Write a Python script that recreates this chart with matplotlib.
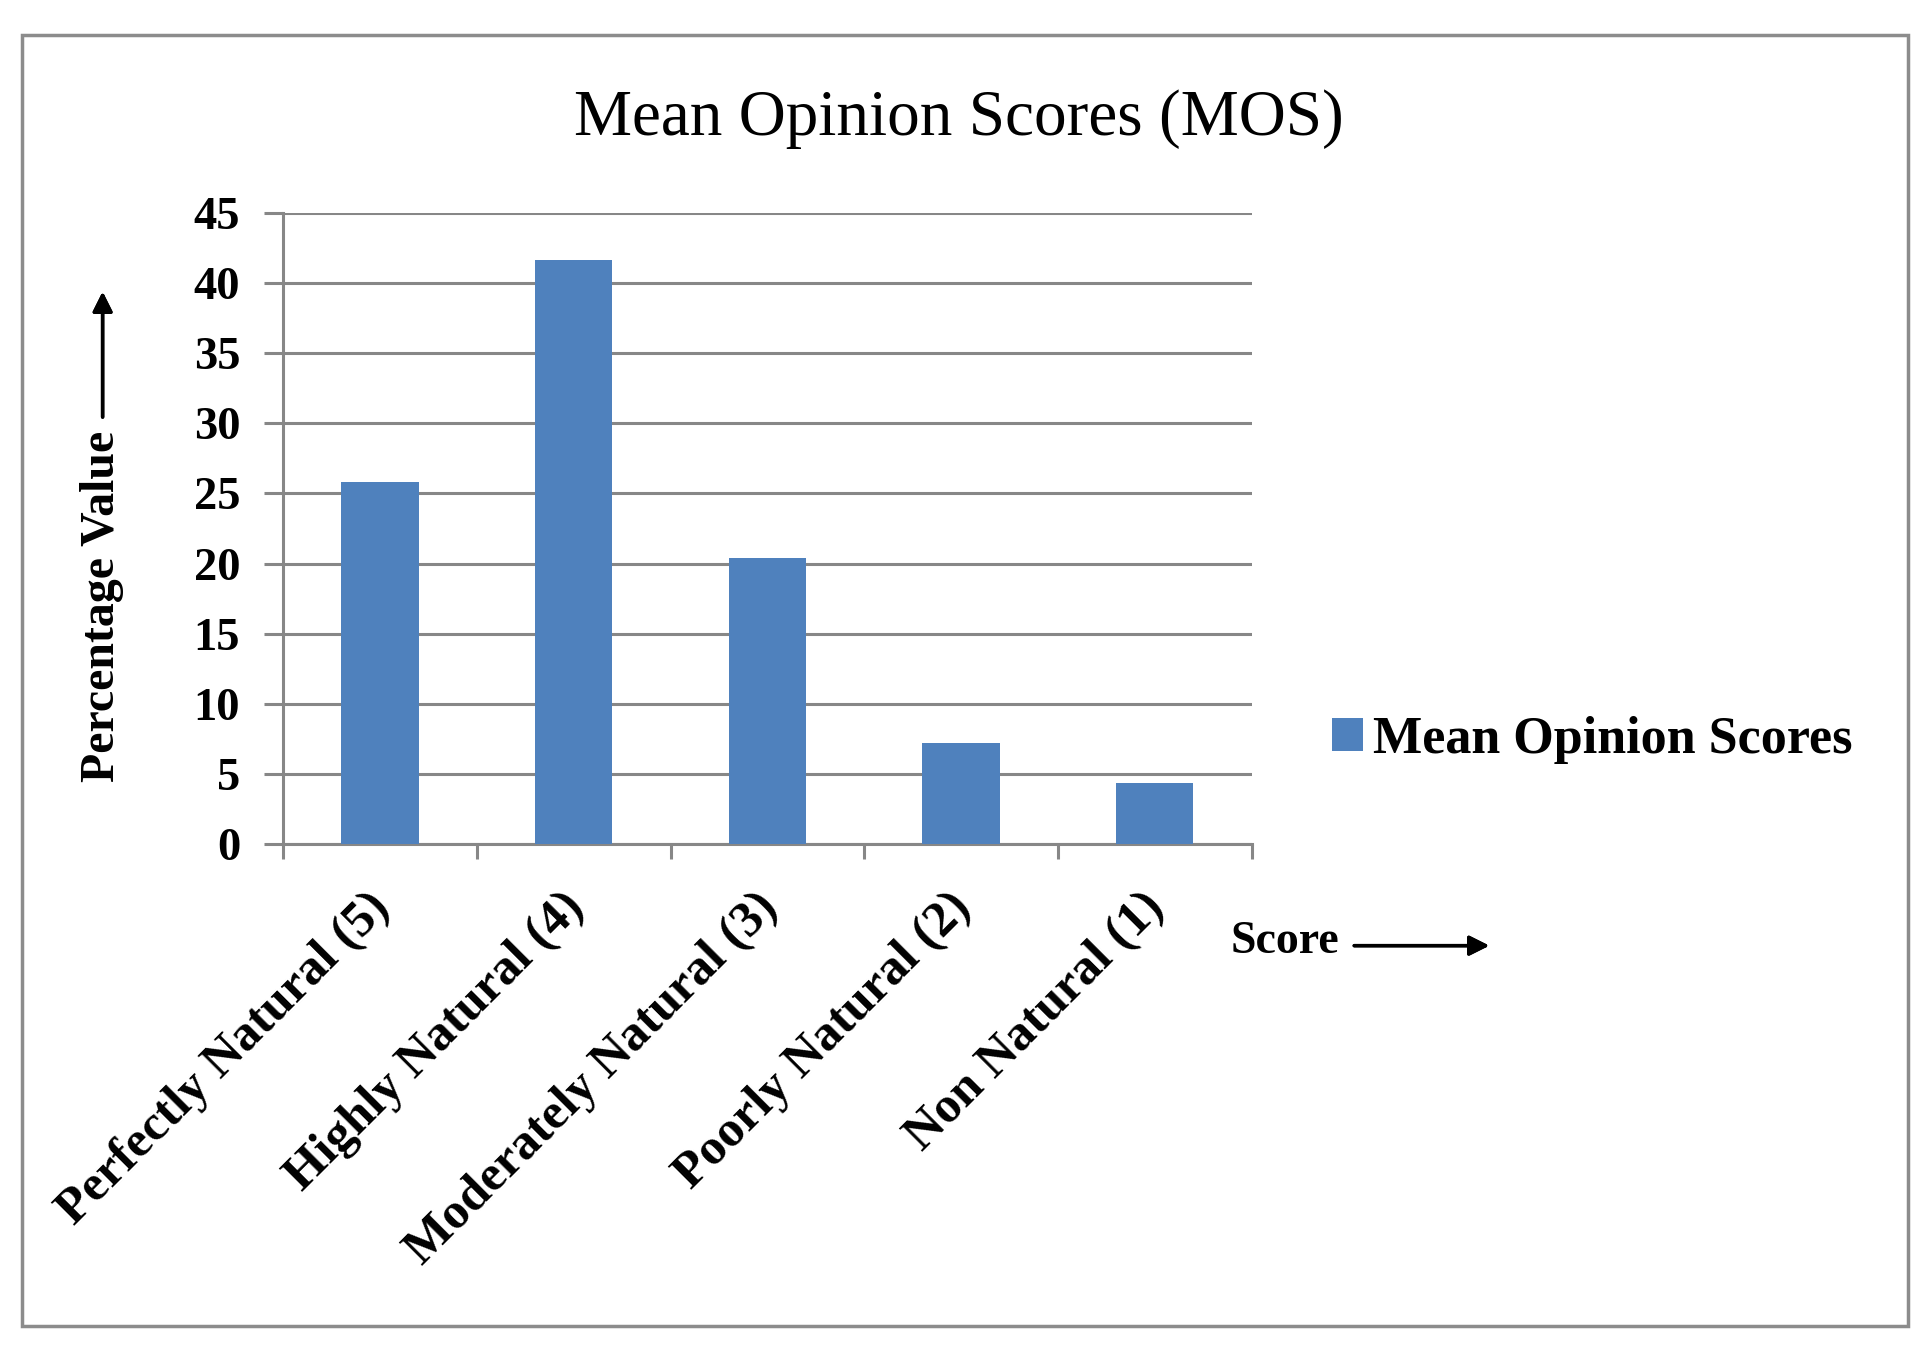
import matplotlib
matplotlib.use("Agg")
import matplotlib.pyplot as plt
from matplotlib.patches import Rectangle
from matplotlib.transforms import ScaledTranslation

categories = ["Perfectly Natural (5)", "Highly Natural (4)", "Moderately Natural (3)",
              "Poorly Natural (2)", "Non Natural (1)"]
values = [25.8, 41.6, 20.4, 7.2, 4.4]
yticks = [0, 5, 10, 15, 20, 25, 30, 35, 40, 45]
series_name = "Mean Opinion Scores"
title = "Mean Opinion Scores (MOS)"
ylabel = "Percentage Value"
xlabel = "Score"

plt.rcParams['font.family'] = ['Liberation Serif', 'DejaVu Serif']

W, H = 1929, 1350
fig = plt.figure(figsize=(W / 100, H / 100), dpi=100)
fig.patch.set_facecolor("white")

grey = "#878787"
bar_color = "#4F81BD"

# outer border
fig.patches.append(Rectangle((0.0115, 0.018), 0.9775, 0.956, transform=fig.transFigure,
                             fill=False, edgecolor="#8c8c8c", linewidth=2.5, zorder=0))

ax = fig.add_axes([0.1468, 0.3745, 0.502, 0.468])
x = list(range(len(categories)))
ax.bar(x, values, width=0.4, color=bar_color, zorder=3, label=series_name)
ax.set_xlim(-0.5, len(categories) - 0.5)
ax.set_ylim(0, 45)

ax.set_yticks(yticks)
ax.set_yticklabels([str(t) for t in yticks], fontsize=33.5, fontweight='bold')
ax.tick_params(axis='y', length=14, width=2.2, color=grey, pad=17)
ax.yaxis.grid(True, color=grey, linewidth=2.2, zorder=0)
ax.set_axisbelow(True)

ax.set_xticks(x)
ax.set_xticklabels(categories, fontsize=36.5, fontweight='bold', rotation=45,
                   ha='right', va='center', rotation_mode='anchor')
ax.tick_params(axis='x', length=0, pad=40)
ax.set_xticks([i - 0.5 for i in range(len(categories) + 1)], minor=True)
ax.tick_params(axis='x', which='minor', length=11, width=2.2, color=grey)
for lbl in ax.get_xticklabels():
    lbl.set_transform(lbl.get_transform() + ScaledTranslation(0.03, 0, fig.dpi_scale_trans))

for s in ['top', 'right']:
    ax.spines[s].set_visible(False)
for s in ['left', 'bottom']:
    ax.spines[s].set_color(grey)
    ax.spines[s].set_linewidth(2.2)

fig.text(0.497, 0.912, title, ha='center', va='center', fontsize=47)

# y label with arrow
fig.text(0.053, 0.551, ylabel, rotation=90, ha='center', va='center',
         fontsize=34.5, fontweight='bold')
fig.add_artist(plt.annotate("", xy=(0.0532, 0.786), xytext=(0.0532, 0.689),
                            xycoords='figure fraction', textcoords='figure fraction',
                            arrowprops=dict(arrowstyle='-|>', color='black', lw=2.5,
                                            mutation_scale=30)))

# x label with arrow
fig.text(0.638, 0.302, xlabel, ha='left', va='center', fontsize=33, fontweight='bold')
fig.add_artist(plt.annotate("", xy=(0.7735, 0.2995), xytext=(0.7006, 0.2995),
                            xycoords='figure fraction', textcoords='figure fraction',
                            arrowprops=dict(arrowstyle='-|>', color='black', lw=2.5,
                                            mutation_scale=30)))

leg = fig.legend(loc='center left', bbox_to_anchor=(0.666, 0.452), frameon=False,
                 prop={'family': 'Liberation Serif', 'weight': 'bold', 'size': 37.5},
                 handlelength=0.6, handleheight=0.6, handletextpad=0.2)

fig.savefig("out.png", dpi=100, facecolor="white")
